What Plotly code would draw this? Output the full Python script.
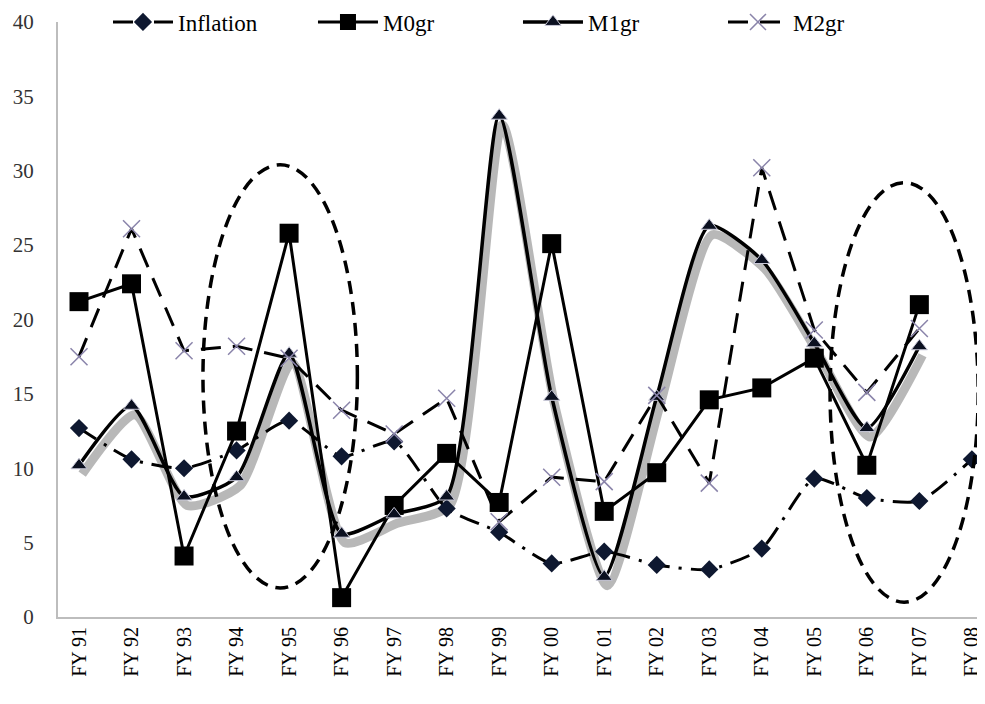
import plotly.graph_objects as go

years = ["FY 91", "FY 92", "FY 93", "FY 94", "FY 95", "FY 96", "FY 97", "FY 98", "FY 99",
         "FY 00", "FY 01", "FY 02", "FY 03", "FY 04", "FY 05", "FY 06", "FY 07", "FY 08"]

inflation = [12.7, 10.6, 10.0, 11.2, 13.2, 10.8, 11.8, 7.3, 5.7, 3.6, 4.4, 3.5, 3.2, 4.6, 9.3, 8.0, 7.8, 10.6]
m0gr = [21.2, 22.4, 4.1, 12.5, 25.8, 1.3, 7.5, 11.0, 7.7, 25.1, 7.1, 9.7, 14.6, 15.4, 17.4, 10.2, 21.0, None]
m1gr = [10.2, 14.2, 8.1, 9.4, 17.7, 5.6, 6.9, 8.1, 33.7, 14.8, 2.7, 14.8, 26.3, 24.0, 18.4, 12.7, 18.2, None]
m2gr = [17.5, 26.1, 17.9, 18.2, 17.4, 13.9, 12.3, 14.7, 6.4, 9.4, 9.1, 14.9, 9.0, 30.2, 19.3, 15.1, 19.4, None]

# highlighted regions (category index / value units)
ellipses = [
    {"x0": 2.36, "x1": 5.30, "y0": 1.95, "y1": 30.4},
    {"x0": 14.30, "x1": 17.12, "y0": 1.0, "y1": 29.2},
]

FONT = "Liberation Serif"
xi = list(range(len(years)))

fig = go.Figure()

# soft shadow under M1gr line
fig.add_trace(go.Scatter(
    x=[i + 0.06 for i in xi], y=[v - 0.6 if v is not None else None for v in m1gr],
    mode="lines", line=dict(color="rgba(0,0,0,0.28)", width=9, shape="spline", smoothing=0.6),
    showlegend=False, hoverinfo="skip"))

fig.add_trace(go.Scatter(
    x=xi, y=inflation, name="Inflation", mode="lines+markers",
    line=dict(color="black", width=3, dash="20px,9px,3px,9px", shape="spline", smoothing=0.6),
    marker=dict(symbol="diamond", size=14, color="#0e1830")))

fig.add_trace(go.Scatter(
    x=xi, y=m0gr, name="M0gr", mode="lines+markers",
    line=dict(color="black", width=3),
    marker=dict(symbol="square", size=19, color="black")))

fig.add_trace(go.Scatter(
    x=xi, y=m1gr, name="M1gr", mode="lines+markers",
    line=dict(color="black", width=3.5, shape="spline", smoothing=0.6),
    marker=dict(symbol="triangle-up", size=14, color="#0b1020",
                line=dict(color="#c8c8d8", width=1))))

fig.add_trace(go.Scatter(
    x=xi, y=m2gr, name="M2gr", mode="lines+markers",
    line=dict(color="black", width=3, dash="20px,12px"),
    marker=dict(symbol="x-thin", size=17, color="#8a84aa",
                line=dict(color="#8a84aa", width=1.5))))

for e in ellipses:
    fig.add_shape(type="circle", xref="x", yref="y",
                  x0=e["x0"], x1=e["x1"], y0=e["y0"], y1=e["y1"],
                  line=dict(color="black", width=3.5, dash="13px,8px"))

fig.update_layout(
    width=985, height=704,
    margin=dict(l=50, r=8, t=14, b=95, autoexpand=False),
    paper_bgcolor="white", plot_bgcolor="white",
    font=dict(family=FONT, size=20, color="black"),
    showlegend=True,
    legend=dict(orientation="h", xref="container", yref="container",
                x=0.1015, y=1 - 14 / 704, xanchor="left", yanchor="middle",
                font=dict(family=FONT, size=23, color="black"),
                bgcolor="rgba(255,255,255,0)", entrywidth=130, itemwidth=60),
    xaxis=dict(
        tickmode="array", tickvals=xi, ticktext=years, tickangle=-90,
        range=[-0.4, 17.25], showgrid=False, zeroline=False, automargin=False,
        showline=True, linecolor="#bdbdbd", linewidth=2, ticks="",
        tickfont=dict(family=FONT, size=20, color="black")),
    yaxis=dict(
        range=[0, 40], dtick=5, showgrid=False, zeroline=False, automargin=False,
        showline=True, linecolor="#bdbdbd", linewidth=2, ticks="",
        ticklabelstandoff=18,
        tickfont=dict(family=FONT, size=21, color="#333333")),
)

fig.write_html("out.html")
